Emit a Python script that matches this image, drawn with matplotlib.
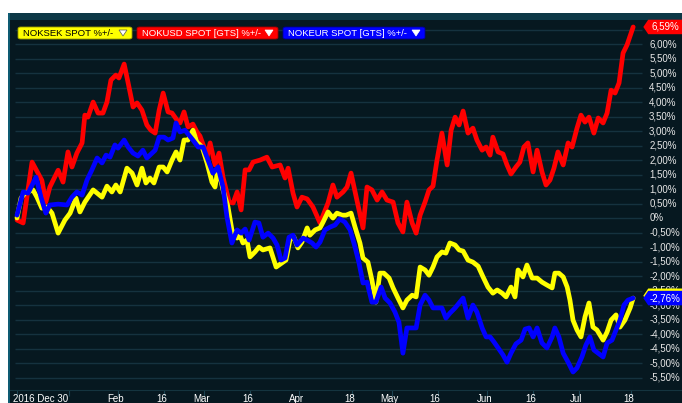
import datetime as dt
import numpy as np
import matplotlib
matplotlib.use('Agg')
import matplotlib.pyplot as plt
from matplotlib.patches import Polygon, FancyBboxPatch, Rectangle
from matplotlib.transforms import blended_transform_factory

# days since 2016-12-30, change in %
sek_days = [0.0, 1.3, 2.6, 5.2, 6.5, 8.1, 9.8, 11.4, 13.4, 15.6, 17.3, 19.2, 20.5, 22.1, 24.8,
            27.7, 29.3, 30.9, 32.2, 33.6, 35.8, 37.5, 39.1, 40.7, 42.0, 43.3, 44.6, 46.3, 47.6,
            48.9, 50.5, 51.8, 53.1, 54.4, 55.7, 57.3, 58.6, 60.3, 61.9, 63.5, 64.5, 65.5, 67.1,
            68.7, 70.0, 71.7, 72.6, 73.6, 74.9, 75.9, 77.5, 78.8, 80.1, 82.4, 84.4, 86.3, 87.6,
            88.9, 90.2, 91.5, 92.8, 94.5, 95.4, 97.1, 98.7, 99.7, 101.3, 102.9, 104.2, 105.9,
            107.2, 108.8, 110.1, 111.7, 112.7, 114.3, 115.6, 116.9, 118.2, 119.5, 121.2, 122.5,
            124.1, 125.7, 127.0, 128.7, 130.0, 131.3, 132.9, 134.2, 135.5, 136.8, 138.4, 139.7,
            141.0, 142.7, 144.0, 145.3, 146.9, 148.5, 150.2, 151.8, 153.4, 155.0, 156.4, 158.0,
            159.3, 160.9, 162.2, 163.2, 164.8, 166.1, 167.8, 169.4, 171.0, 172.6, 174.3, 175.2,
            176.5, 177.9, 179.2, 180.1, 181.1, 182.4, 183.7, 185.0, 186.3, 187.6, 188.9, 190.9,
            192.2, 193.5, 195.1, 196.4, 198.0, 199.7, 200.7]
sek_vals = [0.00, 0.69, 0.86, 0.97, 0.72, 0.34, 0.38, 0.17, -0.52, -0.07, 0.17, 0.69, 0.21, 0.55, 0.97,
            0.72, 1.10, 0.90, 1.14, 0.90, 1.72, 1.55, 1.14, 1.72, 1.21, 1.38, 1.21, 1.76, 1.76,
            1.59, 2.00, 2.28, 2.00, 2.69, 2.69, 3.03, 2.62, 2.45, 1.90, 1.24, 1.07, 1.72, 0.97,
            0.40, -0.41, -0.69, -0.59, -0.86, -0.76, -1.34, -1.17, -1.00, -1.10, -1.03, -1.69, -1.55, -1.45,
            -0.76, -0.66, -1.03, -0.83, -0.34, -0.59, -0.41, -0.34, -0.14, 0.21, 0.00, 0.17, 0.10,
            0.10, 0.17, -0.31, -0.86, -1.38, -1.52, -2.14, -2.90, -1.90, -1.90, -2.07, -2.41,
            -2.76, -3.10, -2.83, -2.66, -2.72, -1.69, -1.79, -1.97, -1.69, -1.34, -1.17, -1.21,
            -0.86, -0.93, -1.10, -1.14, -1.45, -1.52, -1.66, -2.03, -2.38, -2.59, -2.48, -2.59,
            -2.72, -2.38, -2.72, -1.79, -2.03, -1.62, -2.07, -2.07, -2.21, -2.31, -2.41, -1.90,
            -1.90, -2.03, -2.38, -2.83, -3.52, -3.86, -4.10, -3.41, -2.93, -3.76, -3.86, -4.21,
            -3.93, -3.52, -3.34, -3.76, -3.52, -3.10, -2.76]

usd_days = [0.0, 2.0, 4.9, 7.2, 8.1, 9.4, 10.7, 13.4, 15.0, 16.6, 17.9, 19.5, 21.2, 22.1, 23.1,
            24.8, 26.4, 28.0, 29.3, 30.6, 32.2, 33.2, 34.9, 36.2, 37.8, 39.1, 40.7, 42.3, 43.6,
            45.0, 46.3, 47.6, 49.2, 50.5, 52.1, 53.1, 54.4, 55.7, 57.3, 58.6, 59.6, 60.9, 61.9,
            62.9, 64.5, 65.8, 67.1, 69.1, 70.4, 71.7, 73.0, 74.3, 75.6, 76.9, 79.2, 81.4, 83.1,
            85.7, 87.3, 88.3, 89.9, 91.2, 92.8, 94.5, 96.4, 98.7, 101.3, 102.9, 104.2, 106.2,
            107.5, 108.8, 110.7, 112.7, 114.0, 115.6, 117.3, 118.9, 120.5, 122.5, 124.1, 125.7,
            127.0, 128.7, 130.0, 131.3, 132.9, 134.2, 135.5, 136.8, 138.4, 140.1, 141.4, 142.7,
            144.0, 145.3, 146.9, 148.5, 149.8, 151.5, 152.8, 154.1, 155.0, 156.7, 158.3, 159.6,
            160.9, 162.5, 163.8, 165.1, 166.4, 168.1, 169.4, 171.0, 172.3, 173.6, 174.9, 176.2,
            177.9, 179.5, 180.8, 182.4, 183.7, 185.0, 186.3, 187.9, 189.3, 190.9, 192.2, 193.5,
            194.8, 196.1, 197.4, 198.7, 200.7]
usd_vals = [-0.07, -0.17, 1.93, 1.48, 1.30, 0.55, 1.07, 1.65, 1.24, 2.28, 1.76, 2.24, 2.59, 3.55, 3.48,
            4.00, 3.62, 3.62, 4.00, 4.76, 4.93, 4.83, 5.31, 4.66, 3.83, 3.97, 3.72, 3.21, 3.03,
            2.93, 3.72, 4.31, 3.66, 3.62, 3.38, 3.28, 3.66, 3.14, 3.24, 2.97, 2.83, 2.45, 2.10,
            2.59, 1.83, 2.24, 1.41, 0.55, 0.52, 0.90, 0.28, 1.66, 1.66, 1.93, 2.00, 2.10, 1.76,
            1.83, 1.38, 1.72, 0.86, 0.38, 0.72, 0.66, 0.38, -0.17, 0.52, 1.14, 0.72, 0.90,
            1.07, 1.55, 0.62, -0.34, 1.07, 0.97, 0.62, 0.90, 0.62, 0.55, -0.17, -0.48,
            0.55, -0.17, -0.52, 0.10, 0.55, 0.97, 1.10, 2.00, 2.93, 1.83, 3.03, 3.48,
            3.21, 3.69, 2.93, 3.10, 2.69, 2.34, 2.45, 2.17, 2.79, 2.28, 2.21, 1.83,
            1.52, 1.76, 1.93, 2.45, 2.59, 1.59, 2.34, 1.59, 1.14, 1.31, 1.72, 2.28,
            1.83, 2.59, 2.45, 3.10, 3.55, 3.31, 3.48, 2.93, 3.45, 3.28, 3.62, 4.41,
            4.31, 4.66, 5.69, 5.97, 6.59]

eur_days = [0.0, 2.0, 3.6, 6.2, 7.8, 9.4, 10.7, 13.4, 16.3, 17.9, 19.5, 21.2, 22.8, 24.4, 26.1,
            27.7, 29.0, 30.3, 31.9, 32.9, 34.9, 36.2, 37.8, 39.4, 41.0, 42.3, 44.0, 45.0, 46.3,
            47.9, 49.2, 50.8, 51.8, 53.1, 54.7, 56.0, 57.3, 59.0, 60.6, 62.2, 63.8, 65.5, 67.1,
            68.4, 70.0, 71.7, 73.0, 74.3, 75.6, 77.5, 78.8, 80.1, 81.8, 83.4, 84.7, 86.0, 87.3,
            88.6, 89.9, 91.2, 93.2, 94.5, 96.1, 97.4, 98.7, 100.3, 102.0, 103.6, 105.2, 106.8,
            108.5, 110.1, 111.4, 112.7, 114.0, 115.6, 116.9, 118.6, 119.9, 121.5, 123.1, 124.4,
            125.7, 127.0, 128.7, 130.0, 131.3, 132.9, 134.2, 135.5, 138.4, 139.7, 141.0, 142.7,
            144.0, 145.3, 146.9, 148.5, 149.8, 151.5, 152.8, 154.1, 155.4, 156.7, 158.3, 159.6,
            160.9, 162.5, 164.2, 165.5, 166.8, 168.1, 169.4, 171.0, 172.6, 174.3, 175.2, 176.5,
            177.9, 179.5, 181.1, 182.4, 184.0, 185.3, 186.6, 187.9, 189.3, 190.9, 192.2, 193.8,
            195.1, 196.4, 197.7, 199.0, 200.7]
eur_vals = [0.10, 0.90, 0.86, 1.41, 0.72, 0.17, 0.45, 0.48, 0.45, 0.72, 0.90, 0.79, 1.31, 1.66, 2.07,
            1.90, 2.17, 2.10, 2.52, 2.41, 2.69, 2.45, 2.24, 2.14, 2.34, 2.07, 2.24, 2.34, 2.79,
            2.79, 2.69, 2.76, 3.28, 2.97, 3.03, 2.86, 2.69, 2.45, 2.45, 2.00, 1.55, 1.76, 1.07,
            0.03, -0.86, -0.41, -0.52, -0.38, -0.76, -0.14, -0.17, -0.66, -0.52, -0.69, -0.93, -1.45, -1.38,
            -0.66, -0.59, -0.93, -0.69, -0.76, -0.86, -1.00, -0.83, -0.41, -0.31, -0.24, -0.03, -0.14,
            -0.41, -1.00, -1.55, -2.24, -2.21, -2.90, -2.90, -2.38, -2.76, -2.93, -3.24, -3.59,
            -4.66, -3.79, -3.79, -3.79, -3.00, -2.66, -2.83, -3.10, -3.10, -3.45, -3.28, -3.10,
            -2.93, -2.76, -3.45, -3.00, -3.24, -3.79, -4.10, -4.10, -4.28, -4.48, -4.72, -4.97,
            -4.66, -4.34, -4.21, -3.83, -3.79, -4.10, -3.79, -4.31, -4.48, -4.10, -3.79, -4.10,
            -4.66, -4.97, -5.31, -5.17, -4.79, -4.38, -4.10, -4.55, -4.66, -4.79, -4.31, -4.21,
            -3.86, -3.52, -3.00, -2.83, -2.76]

series_names = ['NOKSEK SPOT %+/-', 'NOKUSD SPOT [GTS] %+/-', 'NOKEUR SPOT [GTS] %+/-']

start = dt.date(2016, 12, 30)
tick_dates = [dt.date(2016, 12, 30), dt.date(2017, 1, 16), dt.date(2017, 2, 1), dt.date(2017, 2, 16),
              dt.date(2017, 3, 1), dt.date(2017, 3, 16), dt.date(2017, 4, 1), dt.date(2017, 4, 18),
              dt.date(2017, 5, 1), dt.date(2017, 5, 16), dt.date(2017, 6, 1), dt.date(2017, 6, 16),
              dt.date(2017, 7, 1), dt.date(2017, 7, 18)]
tick_labels = ['2016 Dec 30', '', 'Feb', '16', 'Mar', '16', 'Apr', '18', 'May', '16',
               'Jun', '16', 'Jul', '18']
grid_levels = np.arange(-5.5, 6.51, 0.5)

bg = '#061820'
grid_c = '#15323f'
W, H = 682, 403

plt.rcParams['font.family'] = ['Liberation Sans', 'DejaVu Sans']


def px(x, y):
    return (x / W, 1 - y / H)


fig = plt.figure(figsize=(6.82, 4.03), dpi=100)
fig.patch.set_facecolor('white')

# dark window background, toolbar band and left border
fig.patches.append(Rectangle(px(8, H), (W - 8) / W, (H - 13) / H, transform=fig.transFigure,
                             fc=bg, ec='none', zorder=0))
fig.patches.append(Rectangle(px(8, 20), (W - 8) / W, 7 / H, transform=fig.transFigure,
                             fc='#0d3846', ec='none', zorder=0.5))
fig.patches.append(Rectangle(px(8, H), 2 / W, (H - 13) / H, transform=fig.transFigure,
                             fc='#0e5b72', ec='none', zorder=0.5))

ax = fig.add_axes([10 / W, 13 / H, 672 / W, 370 / H])
ax.set_zorder(1)
ax.set_facecolor(bg)
ax.set_xlim(-2.28, 216.6)
ax.set_ylim(-5.93, 6.83)
for s in ['top', 'left', 'right']:
    ax.spines[s].set_visible(False)
ax.spines['bottom'].set_color('#14343f')
ax.set_yticks([])
tick_days = [(d - start).days for d in tick_dates]
ax.set_xticks(tick_days)
ax.set_xticklabels([])
ax.tick_params(axis='x', length=4, color='#1b4250', direction='out')

ax.hlines(grid_levels, -0.65, 203.6, color=grid_c, lw=1.0, zorder=1)

for v in grid_levels:
    if v > 6.2:
        continue
    lab = '0%' if abs(v) < 1e-9 else ('%.2f%%' % v).replace('.', ',')
    ax.text(205.9, v, lab, color='#e6e6e6', fontsize=7, ha='left', va='center', zorder=2)

tr = blended_transform_factory(ax.transData, fig.transFigure)
for d, lab in zip(tick_days, tick_labels):
    if d == 0:
        ax.text(-1.3, 4 / H, lab, transform=tr, color='white', fontsize=7, ha='left', va='center')
    else:
        ax.text(d - 0.8, 4 / H, lab, transform=tr, color='white', fontsize=7, ha='center', va='center')

ax.plot(usd_days, usd_vals, color='#ff0000', lw=3.4, solid_joinstyle='round', solid_capstyle='round', zorder=3)
ax.plot(sek_days, sek_vals, color='#ffff00', lw=3.4, solid_joinstyle='round', solid_capstyle='round', zorder=4)
ax.plot(eur_days, eur_vals, color='#0000ff', lw=3.4, solid_joinstyle='round', solid_capstyle='round', zorder=5)


def tag(y, face, text=None, tc='white'):
    x0, x1, h = 204.0, 216.6, 0.25
    ax.add_patch(Polygon([(x0, y), (x0 + 1.6, y + h), (x1, y + h), (x1, y - h), (x0 + 1.6, y - h)],
                         closed=True, fc=face, ec='none', clip_on=False, zorder=6))
    if text:
        ax.text((x0 + x1) / 2 + 0.8, y, text, color=tc, fontsize=7, ha='center', va='center', zorder=7)


def pct(v):
    return ('%.2f%%' % v).replace('.', ',')


tag(usd_vals[-1], '#ff0000', pct(usd_vals[-1]))
tag(sek_vals[-1] + 0.08, '#ffff00')
tag(eur_vals[-1], '#0000ff', pct(eur_vals[-1]))

# legend chips
chips = [(18, 132, '#ffff00', '#9a9a00', 'black'),
         (137, 278, '#ff0000', '#a00000', 'white'),
         (283, 425, '#0000ff', '#000090', 'white')]
for (xl, xr, fc, ec, tc), name in zip(chips, series_names):
    fig.patches.append(FancyBboxPatch(px(xl, 39), (xr - xl) / W, 12 / H,
                                      boxstyle='round,pad=0,rounding_size=0.004',
                                      transform=fig.transFigure, fc=fc, ec=ec, lw=0.6, zorder=3))
    fig.text(*px(xl + 5, 33.5), name, color=tc, fontsize=6.8, ha='left', va='center', zorder=4)
    tri = [px(xr - 13, 30), px(xr - 5, 30), px(xr - 9, 36)]
    fig.patches.append(Polygon(tri, closed=True, transform=fig.transFigure, fc='white',
                               ec='#555555' if tc == 'black' else 'white', lw=0.5, zorder=4))

fig.savefig('out.png', dpi=100, facecolor=fig.get_facecolor())
